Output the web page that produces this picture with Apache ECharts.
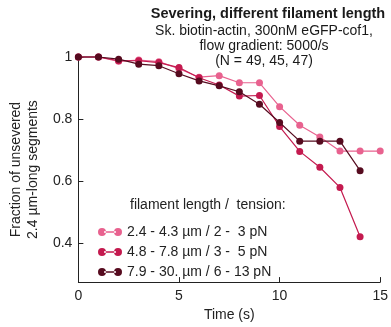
<!DOCTYPE html>
<html>
<head>
<meta charset="utf-8">
<script src="https://cdn.jsdelivr.net/npm/echarts@6/dist/echarts.min.js"></script>
<style>
  html, body { margin: 0; padding: 0; background: #fff; }
  #chart { width: 391px; height: 327px; }
</style>
</head>
<body>
<div id="chart"></div>
<script>
// time points (s)
const timeShort = [0, 1, 2, 3, 4, 5, 6, 7, 8, 9, 10, 11, 12, 13, 14];
const timeLong = [0, 1, 2, 3, 4, 5, 6, 7, 8, 9, 10, 11, 12, 13, 14, 15];

// fraction of unsevered segments, per filament-length group
const shortFil = [1, 1, 0.986, 0.99, 0.985, 0.962, 0.935, 0.94, 0.917, 0.917, 0.84, 0.78, 0.742, 0.697, 0.697, 0.697];
const midFil = [1, 1, 0.988, 0.988, 0.982, 0.966, 0.933, 0.91, 0.874, 0.876, 0.776, 0.696, 0.645, 0.58, 0.421];
const longFil = [1, 1, 0.993, 0.977, 0.972, 0.946, 0.923, 0.907, 0.888, 0.848, 0.789, 0.729, 0.729, 0.729, 0.634];

const seriesNames = [
  '2.4 - 4.3 \u00b5m / 2 -  3 pN',
  '4.8 - 7.8 \u00b5m / 3 -  5 pN',
  '7.9 - 30. \u00b5m / 6 - 13 pN'
];
const colors = ['#e8628f', '#c41a4f', '#560b1f'];

const yTicks = [0.4, 0.6, 0.8, 1];

const font = 'Liberation Sans, Arial, sans-serif';
const dotIcon = 'path://M0,4a4,4 0 1,0 8,0a4,4 0 1,0 -8,0Z M16,4a4,4 0 1,0 8,0a4,4 0 1,0 -8,0Z M6,3.3h12v1.4h-12Z';

function pairs(xs, ys) {
  return ys.map((v, i) => [xs[i], v]);
}

function label(text, x, y, f) {
  return {
    type: 'text',
    x: x,
    y: y,
    style: {
      text: text,
      font: f || '14px ' + font,
      fill: '#1a1a1a',
      textAlign: 'center',
      textVerticalAlign: 'middle'
    }
  };
}

const chart = echarts.init(document.getElementById('chart'), null, { renderer: 'canvas' });

const data = [pairs(timeLong, shortFil), pairs(timeShort, midFil), pairs(timeShort, longFil)];

chart.setOption({
  animation: false,
  textStyle: { fontFamily: font },
  grid: { left: 78, right: 10, top: 57, bottom: 38 },
  graphic: [
    label('Severing, different filament length', 268, 14, 'bold 14.5px ' + font),
    label('Sk. biotin-actin, 300nM eGFP-cof1,', 264, 31),
    label('flow gradient: 5000/s', 264, 46),
    label('(N = 49, 45, 47)', 264, 61),
    { type: 'text', left: 130, top: 198, style: { text: 'filament length /  tension:', font: '14px ' + font, fill: '#222' } }
  ],
  legend: {
    orient: 'vertical',
    left: 93,
    top: 220,
    itemWidth: 24,
    itemHeight: 8,
    itemGap: 6,
    icon: dotIcon,
    textStyle: { fontSize: 14, color: '#222', fontFamily: font },
    data: seriesNames
  },
  xAxis: {
    type: 'value',
    min: 0,
    max: 15,
    interval: 5,
    name: 'Time (s)',
    nameLocation: 'middle',
    nameGap: 25,
    nameTextStyle: { fontSize: 14, color: '#222' },
    splitLine: { show: false },
    axisLine: { lineStyle: { color: '#222', width: 1 } },
    axisTick: { inside: true, length: 5, lineStyle: { color: '#222' } },
    axisLabel: { fontSize: 14, color: '#222', margin: 7 }
  },
  yAxis: {
    type: 'value',
    min: 0.275,
    max: 1,
    name: 'Fraction of unsevered\n2.4 \u00b5m-long segments',
    nameLocation: 'middle',
    nameGap: 28,
    nameTextStyle: { fontSize: 14, color: '#222', lineHeight: 17 },
    splitLine: { show: false },
    axisLine: { onZero: false, lineStyle: { color: '#222', width: 1 } },
    axisTick: { inside: true, length: 5, customValues: yTicks, lineStyle: { color: '#222' } },
    axisLabel: {
      fontSize: 14,
      color: '#222',
      margin: 6,
      customValues: yTicks,
      formatter: v => (v === 1 ? '1' : String(v))
    }
  },
  series: data.map((d, i) => ({
    name: seriesNames[i],
    type: 'line',
    data: d,
    clip: false,
    symbol: 'circle',
    symbolSize: 7,
    showSymbol: true,
    itemStyle: { color: colors[i] },
    lineStyle: { color: colors[i], width: 1.2 },
    z: 2 + i
  }))
});
</script>
</body>
</html>
